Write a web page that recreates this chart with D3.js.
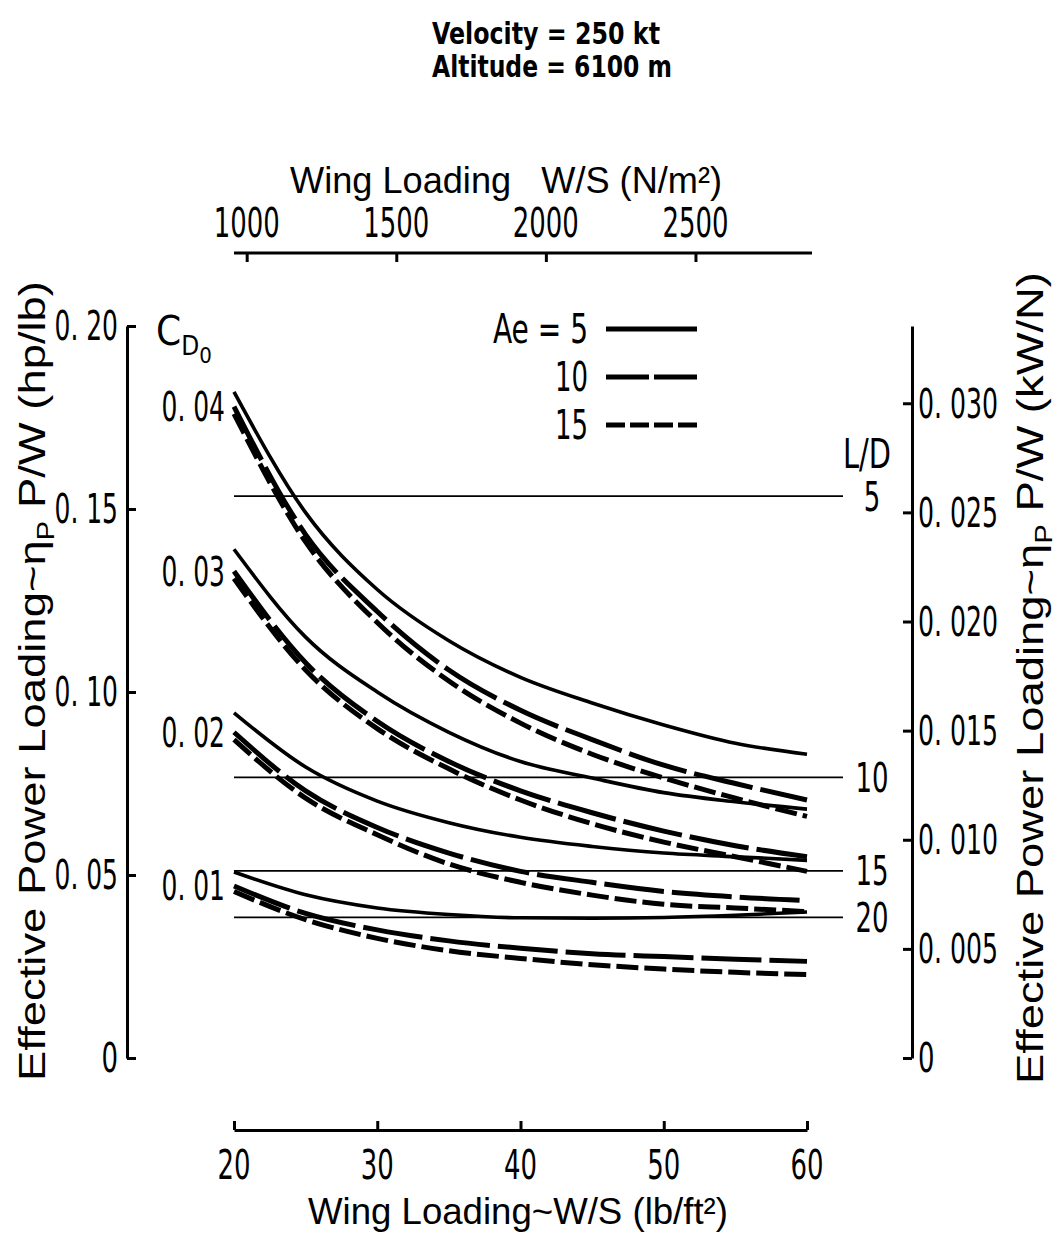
<!DOCTYPE html>
<html>
<head>
<meta charset="utf-8">
<script src="https://cdn.jsdelivr.net/npm/d3@7"></script>
<style>
  body { margin: 0; background: #fff; }
  svg { display: block; font-family: "Liberation Sans Narrow", "DejaVu Sans Condensed", sans-serif; fill: #000; }
  .axis-title { font-family: "Liberation Sans", "DejaVu Sans", sans-serif; font-size: 37px; }
  .tick-label { font-size: 40px; }
</style>
</head>
<body>
<svg id="chart" width="1062" height="1237"></svg>
<script>
// --- DATA ---
const wingLoading = [20, 25, 30, 35, 40, 45, 50, 55, 60];   // W/S, lb/ft^2
const aspectRatios = [5, 10, 15];                            // Ae
const dragLabels = ["0. 04", "0. 03", "0. 02", "0. 01"];     // C_D0 of each family

// effective power loading, hp/lb at each wing loading
const cd004Ae5  = [0.182, 0.149, 0.128, 0.114, 0.104, 0.097, 0.091, 0.086, 0.083];
const cd004Ae10 = [0.178, 0.143, 0.122, 0.106, 0.095, 0.087, 0.080, 0.075, 0.0705];
const cd004Ae15 = [0.176, 0.141, 0.119, 0.103, 0.0915, 0.083, 0.0765, 0.071, 0.066];
const cd003Ae5  = [0.139, 0.115, 0.100, 0.089, 0.081, 0.0765, 0.0725, 0.070, 0.068];
const cd003Ae10 = [0.133, 0.108, 0.092, 0.081, 0.073, 0.067, 0.062, 0.058, 0.055];
const cd003Ae15 = [0.131, 0.106, 0.090, 0.079, 0.0705, 0.064, 0.059, 0.055, 0.051];
const cd002Ae5  = [0.0943, 0.0795, 0.0702, 0.0643, 0.0603, 0.0578, 0.056, 0.055, 0.054];
const cd002Ae10 = [0.089, 0.073, 0.063, 0.056, 0.051, 0.048, 0.0455, 0.044, 0.043];
const cd002Ae15 = [0.087, 0.071, 0.061, 0.053, 0.048, 0.0445, 0.042, 0.041, 0.040];
const cd001Ae5  = [0.0508, 0.0446, 0.041, 0.0392, 0.0383, 0.0382, 0.0384, 0.039, 0.0399];
const cd001Ae10 = [0.047, 0.0395, 0.035, 0.032, 0.030, 0.0285, 0.0277, 0.027, 0.0264];
const cd001Ae15 = [0.0455, 0.0378, 0.0327, 0.0293, 0.0272, 0.0255, 0.0243, 0.0234, 0.0228];

// constant L/D reference lines
const liftDrag = [5, 10, 15, 20];
const liftDragPower = [0.1535, 0.0767, 0.0511, 0.0384];

// axes
const leftTicks = [0, 0.05, 0.10, 0.15, 0.20];
const leftTickLabels = ["0", "0. 05", "0. 10", "0. 15", "0. 20"];
const rightTicks = [0, 0.005, 0.010, 0.015, 0.020, 0.025, 0.030];
const rightTickLabels = ["0", "0. 005", "0. 010", "0. 015", "0. 020", "0. 025", "0. 030"];
const bottomTicks = [20, 30, 40, 50, 60];
const topTicks = [1000, 1500, 2000, 2500];

const LBFT2_TO_NM2 = 47.88;
const HPLB_TO_KWN = 0.1677;

// --- SCALES ---
const svg = d3.select("#chart");
const x = d3.scaleLinear().domain([20, 60]).range([234, 807]);
const xMetric = d3.scaleLinear().domain([20 * LBFT2_TO_NM2, 60 * LBFT2_TO_NM2]).range([234, 807]);
const y = d3.scaleLinear().domain([0, 0.20]).range([1058, 326]);
const yMetric = d3.scaleLinear().domain([0, 0.20 * HPLB_TO_KWN]).range([1058, 326]);

// the lettering on the original is very narrow: squeeze labels to its widths
function labelWidth(s) {
    let w = 0;
    for (const ch of String(s)) {
        if (/[0-9]/.test(ch)) w += 16.5;
        else if (ch === ".") w += 8;
        else if (ch === " ") w += 6;
        else if (ch === "=") w += 12;
        else w += 16;
    }
    return w;
}
function narrow(sel) {
    sel.attr("textLength", function() { return labelWidth(this.textContent); })
       .attr("lengthAdjust", "spacingAndGlyphs");
}

function styleAxis(g) {
    g.selectAll("path, line").attr("stroke", "#000").attr("stroke-width", 3);
    g.selectAll("text").remove();
}

// --- HEADER ---
svg.append("text").attr("x", 432).attr("y", 44)
    .attr("font-size", 30).attr("font-weight", "bold")
    .attr("textLength", 228).attr("lengthAdjust", "spacingAndGlyphs")
    .text("Velocity = 250 kt");
svg.append("text").attr("x", 432).attr("y", 77)
    .attr("font-size", 30).attr("font-weight", "bold")
    .attr("textLength", 240).attr("lengthAdjust", "spacingAndGlyphs")
    .text("Altitude = 6100 m");

// --- TOP AXIS (N/m^2) ---
const topAxis = svg.append("g").attr("transform", "translate(0,253)")
    .call(d3.axisBottom(xMetric).tickValues(topTicks).tickSize(9).tickSizeOuter(0))
    .call(styleAxis);
topAxis.select(".domain").attr("d", "M234,0H812");
svg.selectAll(".top-label").data(topTicks).enter().append("text")
    .attr("class", "tick-label")
    .attr("x", d => xMetric(d)).attr("y", 237)
    .attr("text-anchor", "middle")
    .text(d => d)
    .call(narrow);
svg.append("text").attr("class", "axis-title")
    .attr("x", 290).attr("y", 193)
    .attr("textLength", 432).attr("lengthAdjust", "spacingAndGlyphs")
    .text("Wing Loading\u00a0\u00a0\u00a0W/S (N/m\u00b2)");

// --- BOTTOM AXIS (lb/ft^2) ---
svg.append("g").attr("transform", "translate(0,1130)")
    .call(d3.axisTop(x).tickValues(bottomTicks).tickSize(9).tickSizeOuter(0))
    .call(styleAxis);
svg.selectAll(".bottom-label").data(bottomTicks).enter().append("text")
    .attr("class", "tick-label")
    .attr("x", d => x(d)).attr("y", 1179)
    .attr("text-anchor", "middle")
    .text(d => d)
    .call(narrow);
svg.append("text").attr("class", "axis-title")
    .attr("x", 308).attr("y", 1224)
    .attr("textLength", 420).attr("lengthAdjust", "spacingAndGlyphs")
    .text("Wing Loading~W/S (lb/ft\u00b2)");

// --- LEFT AXIS (hp/lb) ---
svg.append("g").attr("transform", "translate(127,0)")
    .call(d3.axisRight(y).tickValues(leftTicks).tickSize(9).tickSizeOuter(0))
    .call(styleAxis);
svg.selectAll(".left-label").data(leftTicks).enter().append("text")
    .attr("class", "tick-label")
    .attr("x", 118).attr("y", d => y(d))
    .attr("dy", "0.36em")
    .attr("text-anchor", "end")
    .text((d, i) => leftTickLabels[i])
    .call(narrow);
const leftTitle = svg.append("text").attr("class", "axis-title")
    .attr("transform", "translate(45,681) rotate(-90)")
    .attr("text-anchor", "middle")
    .attr("textLength", 800).attr("lengthAdjust", "spacingAndGlyphs");
leftTitle.append("tspan").text("Effective Power Loading~\u03b7");
leftTitle.append("tspan").attr("dy", 9).attr("font-size", 24).text("P");
leftTitle.append("tspan").attr("dy", -9).text(" P/W (hp/lb)");

// --- RIGHT AXIS (kW/N) ---
svg.append("g").attr("transform", "translate(912,0)")
    .call(d3.axisLeft(yMetric).tickValues(rightTicks).tickSize(9).tickSizeOuter(0))
    .call(styleAxis);
svg.selectAll(".right-label").data(rightTicks).enter().append("text")
    .attr("class", "tick-label")
    .attr("x", 918).attr("y", d => yMetric(d))
    .attr("dy", "0.36em")
    .text((d, i) => rightTickLabels[i])
    .call(narrow);
const rightTitle = svg.append("text").attr("class", "axis-title")
    .attr("transform", "translate(1043,678) rotate(-90)")
    .attr("text-anchor", "middle")
    .attr("textLength", 812).attr("lengthAdjust", "spacingAndGlyphs");
rightTitle.append("tspan").text("Effective Power Loading~\u03b7");
rightTitle.append("tspan").attr("dy", 9).attr("font-size", 24).text("P");
rightTitle.append("tspan").attr("dy", -9).text(" P/W (kW/N)");

// --- L/D LINES ---
svg.selectAll(".ld-line").data(liftDragPower).enter().append("line")
    .attr("x1", x(20)).attr("x2", 843)
    .attr("y1", d => y(d)).attr("y2", d => y(d))
    .attr("stroke", "#000").attr("stroke-width", 1.8);
svg.selectAll(".ld-label").data(liftDrag).enter().append("text")
    .attr("class", "tick-label")
    .attr("x", 872).attr("y", (d, i) => y(liftDragPower[i]))
    .attr("dy", "0.36em")
    .attr("text-anchor", "middle")
    .text(d => d)
    .call(narrow);
svg.append("text").attr("class", "tick-label")
    .attr("x", 867).attr("y", 468).attr("text-anchor", "middle")
    .text("L/D")
    .call(narrow);

// --- CURVES ---
const families = [
    [cd004Ae5, cd004Ae10, cd004Ae15],
    [cd003Ae5, cd003Ae10, cd003Ae15],
    [cd002Ae5, cd002Ae10, cd002Ae15],
    [cd001Ae5, cd001Ae10, cd001Ae15]
];
const aeStyles = [
    { dash: null, width: 3.6 },
    { dash: "60 8", width: 5 },
    { dash: "22 6", width: 5 }
];
const line = d3.line()
    .x((d, i) => x(wingLoading[i]))
    .y(d => y(d))
    .curve(d3.curveMonotoneX);

families.forEach((fam, f) => {
    fam.forEach((values, a) => {
        svg.append("path")
            .attr("d", line(values))
            .attr("fill", "none")
            .attr("stroke", "#000")
            .attr("stroke-width", aeStyles[a].width)
            .attr("stroke-dasharray", aeStyles[a].dash);
    });
    svg.append("text").attr("class", "tick-label")
        .attr("x", 225).attr("y", y(fam[1][0]))
        .attr("dy", "0.36em")
        .attr("text-anchor", "end")
        .text(dragLabels[f])
        .call(narrow);
});

// C_D0 heading
const cdLabel = svg.append("text").attr("class", "tick-label").attr("x", 156).attr("y", 345);
cdLabel.append("tspan").text("C");
cdLabel.append("tspan").attr("dy", 10).attr("font-size", 26).text("D");
cdLabel.append("tspan").attr("dy", 8).attr("font-size", 22).text("0");

// --- LEGEND ---
const legendLabels = aspectRatios.map((d, i) => i === 0 ? "Ae = " + d : String(d));
aspectRatios.forEach((d, i) => {
    const ly = 329 + i * 48;
    const label = svg.append("text").attr("class", "tick-label")
        .attr("x", 588).attr("y", ly).attr("dy", "0.36em")
        .attr("text-anchor", "end")
        .text(legendLabels[i])
        .call(narrow);
    if (i === 0) label.attr("textLength", 95);
    svg.append("line")
        .attr("x1", 606).attr("x2", 697)
        .attr("y1", ly).attr("y2", ly)
        .attr("stroke", "#000").attr("stroke-width", 5)
        .attr("stroke-dasharray", i === 0 ? null : (i === 1 ? "43 5" : "19 5"));
});
</script>
</body>
</html>
